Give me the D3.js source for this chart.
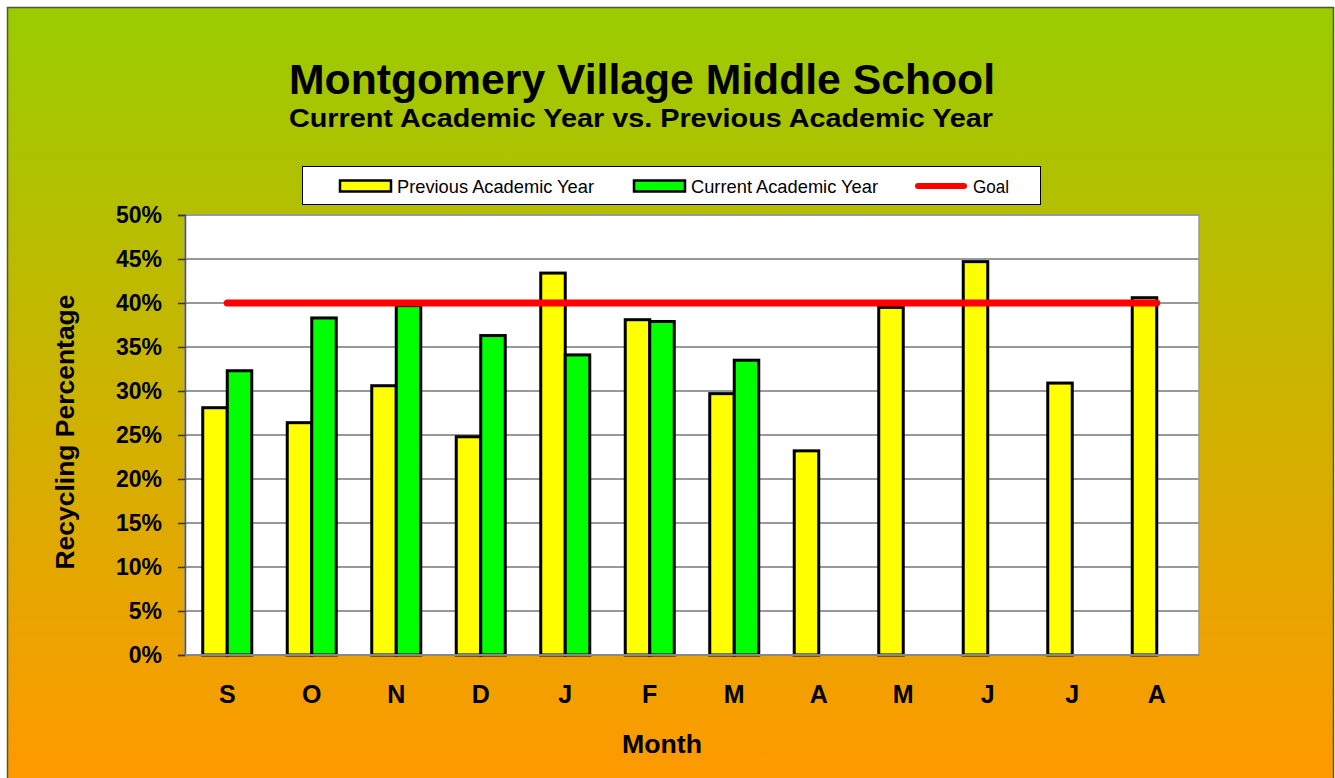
<!DOCTYPE html>
<html><head><meta charset="utf-8">
<script src="https://cdn.jsdelivr.net/npm/d3@7"></script>
<style>body{margin:0;background:#fff;}svg{display:block;}</style>
</head><body>
<svg id="chart" width="1335" height="778"></svg>
<script>
const months = ["S","O","N","D","J","F","M","A","M","J","J","A"];
const previousYear = [28.1, 26.4, 30.6, 24.8, 43.4, 38.1, 29.7, 23.2, 39.5, 44.7, 30.9, 40.6];
const currentYear = [32.3, 38.3, 39.7, 36.3, 34.1, 37.9, 33.5, null, null, null, null, null];
const goalValue = 40;
const yTicks = [0,5,10,15,20,25,30,35,40,45,50];
const seriesNames = ["Previous Academic Year","Current Academic Year","Goal"];

const FONT = "Liberation Sans, Arial, sans-serif";
const svg = d3.select("#chart");
const defs = svg.append("defs");
const grad = defs.append("linearGradient").attr("id","bg").attr("x1",0).attr("y1",0).attr("x2",0).attr("y2",1);
grad.append("stop").attr("offset","0%").attr("stop-color","#99cc00");
grad.append("stop").attr("offset","100%").attr("stop-color","#ff9900");

svg.append("rect").attr("x",7.5).attr("y",7.5).attr("width",1326).attr("height",772)
  .attr("fill","url(#bg)").attr("stroke","#555533").attr("stroke-width",1.5);

const m = {left:185, right:1199, top:215, bottom:655};
const x = d3.scaleBand().domain(d3.range(months.length)).range([m.left,m.right]).paddingInner(0.42).paddingOuter(0.21);
const x2 = d3.scaleBand().domain([0,1]).range([0,x.bandwidth()]);
const y = d3.scaleLinear().domain([0,50]).range([m.bottom,m.top]);

svg.append("rect").attr("x",m.left).attr("y",m.top).attr("width",m.right-m.left).attr("height",m.bottom-m.top)
  .attr("fill","#fff").attr("stroke","#999").attr("stroke-width",1.5);

// gridlines
svg.append("g").selectAll("line").data(yTicks.filter(t=>t>0)).join("line")
  .attr("x1",m.left).attr("x2",m.right).attr("y1",d=>y(d)).attr("y2",d=>y(d))
  .attr("stroke","#999").attr("stroke-width",2);

// y axis
const yAxis = d3.axisLeft(y).tickValues(yTicks).tickFormat(d=>d+"%").tickSize(7).tickPadding(16);
const ya = svg.append("g").attr("transform",`translate(${m.left},0)`).call(yAxis);
ya.select(".domain").attr("stroke","#555").attr("stroke-width",1.5);
ya.selectAll(".tick line").attr("stroke","#333").attr("stroke-width",1.5);
ya.selectAll("text").attr("font-family",FONT).attr("font-weight","bold").attr("font-size",23).attr("fill","#000");

// bars
const g = svg.append("g");
months.forEach((mo,i)=>{
  [previousYear[i], currentYear[i]].forEach((v,k)=>{
    if(v==null) return;
    g.append("rect").attr("x",x(i)+x2(k)).attr("y",y(v)).attr("width",x2.bandwidth()).attr("height",y(0)-y(v))
      .attr("fill",k===0?"#ffff00":"#00ff00").attr("stroke","#000").attr("stroke-width",3);
  });
});

// x axis bottom line
svg.append("line").attr("x1",m.left).attr("x2",m.right).attr("y1",m.bottom).attr("y2",m.bottom).attr("stroke","#888").attr("stroke-width",2);

// goal line
const goalData = months.map((d,i)=>({i, v:goalValue}));
svg.append("path").datum(goalData)
  .attr("d", d3.line().x(d=>x(d.i)+x.bandwidth()/2).y(d=>y(d.v)))
  .attr("stroke","#ff0000").attr("stroke-width",7).attr("stroke-linecap","round").attr("fill","none");

// x labels
svg.append("g").selectAll("text").data(months).join("text")
  .attr("x",(d,i)=>x(i)+x.bandwidth()/2).attr("y",703).attr("text-anchor","middle")
  .attr("font-family",FONT).attr("font-weight","bold").attr("font-size",25)
  .text(d=>d);

// titles
svg.append("text").attr("x",642).attr("y",94).attr("text-anchor","middle")
  .attr("font-family",FONT).attr("font-weight","bold").attr("font-size",43)
  .attr("textLength",706).attr("lengthAdjust","spacingAndGlyphs")
  .text("Montgomery Village Middle School");
svg.append("text").attr("x",641).attr("y",127).attr("text-anchor","middle")
  .attr("font-family",FONT).attr("font-weight","bold").attr("font-size",25)
  .attr("textLength",704).attr("lengthAdjust","spacingAndGlyphs")
  .text("Current Academic Year vs. Previous Academic Year");
svg.append("text").attr("x",662).attr("y",753).attr("text-anchor","middle")
  .attr("font-family",FONT).attr("font-weight","bold").attr("font-size",25)
  .attr("textLength",80).attr("lengthAdjust","spacingAndGlyphs")
  .text("Month");
svg.append("text").attr("transform","translate(74,432) rotate(-90)").attr("text-anchor","middle")
  .attr("font-family",FONT).attr("font-weight","bold").attr("font-size",25)
  .attr("textLength",275).attr("lengthAdjust","spacingAndGlyphs")
  .text("Recycling Percentage");

// legend
const lg = svg.append("g");
lg.append("rect").attr("x",302.5).attr("y",166.5).attr("width",738).attr("height",38).attr("fill","#fff").attr("stroke","#000").attr("stroke-width",1);
const legendX = [339, 633, 915];
const legendLen = [197, 187, 36];
seriesNames.forEach((name,k)=>{
  const lx = legendX[k];
  if(k<2){
    lg.append("rect").attr("x",lx+1).attr("y",180.5).attr("width",51).attr("height",11)
      .attr("fill",k===0?"#ffff00":"#00ff00").attr("stroke","#000").attr("stroke-width",2.5);
  } else {
    lg.append("line").attr("x1",lx+3).attr("x2",lx+49).attr("y1",186).attr("y2",186)
      .attr("stroke","#ff0000").attr("stroke-width",6).attr("stroke-linecap","round");
  }
  lg.append("text").attr("x",lx+58).attr("y",192.5)
    .attr("font-family",FONT).attr("font-size",18.5)
    .attr("textLength",legendLen[k]).attr("lengthAdjust","spacingAndGlyphs")
    .text(name);
});
</script>
</body></html>
